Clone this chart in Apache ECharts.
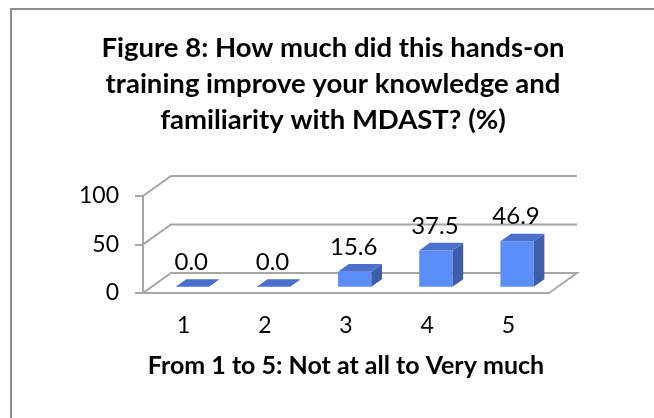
<!DOCTYPE html>
<html>
<head>
<meta charset="utf-8">
<script src="https://cdn.jsdelivr.net/npm/echarts@6/dist/echarts.min.js"></script>
<style>
  html, body { margin: 0; padding: 0; background: #fff; }
  #chart { width: 654px; height: 418px; }
</style>
</head>
<body>
<div id="chart"></div>
<script>
// data
const categories = ['1', '2', '3', '4', '5'];
const values = [0.0, 0.0, 15.6, 37.5, 46.9];
const yTicks = [0, 50, 100];
const titleLines = [
  'Figure 8: How much did this hands-on',
  'training improve your knowledge and',
  'familiarity with MDAST? (%)'
];
const xTitle = 'From 1 to 5: Not at all to Very much';

const chart = echarts.init(document.getElementById('chart'));

const FONT = 'Lato';
const LINE = '#a6a6a6';
const DEPTH = [28, -20]; // offset from the front of the floor to the back wall

// floor outline + back wall gridlines, one item per y tick
function renderFrame(params, api) {
  const cs = params.coordSys;
  const y = api.coord([0, api.value(1)])[1];
  const left = cs.x, right = cs.x + cs.width;
  const style = { stroke: LINE, lineWidth: 2, fill: null };
  const pts = [[left, y], [left + DEPTH[0], y + DEPTH[1]], [right + DEPTH[0], y + DEPTH[1]]];
  if (api.value(1) === 0) pts.push([right, y]);
  return { type: 'polyline', shape: { points: pts }, style: style, silent: true };
}

// a 3D column sitting in the middle of the floor depth
function renderBar(params, api) {
  const i = api.value(0), v = api.value(1);
  const base = api.coord([i, 0]);
  const top = api.coord([i, v]);
  const band = api.size([1, 0])[0];
  const w = band * 0.41;
  const fx = DEPTH[0] * 0.31, fy = DEPTH[1] * 0.31;
  const dx = DEPTH[0] * 0.38, dy = DEPTH[1] * 0.38;
  const x0 = base[0] - w / 2 + fx, x1 = x0 + w;
  const yb = base[1] + fy, yt = top[1] + fy;
  const kids = [];
  if (yb - yt > 0.5) {
    kids.push({ type: 'rect', shape: { x: x0, y: yt, width: w, height: yb - yt },
      style: { fill: '#5b8ef8' } });
    kids.push({ type: 'polygon', shape: { points: [[x1, yt], [x1 + dx, yt + dy], [x1 + dx, yb + dy], [x1, yb]] },
      style: { fill: '#3d5eaa' } });
  }
  kids.push({ type: 'polygon', shape: { points: [[x0, yt], [x1, yt], [x1 + dx, yt + dy], [x0 + dx, yt + dy]] },
    style: { fill: '#4a70cc' } });
  kids.push({ type: 'text', x: x0 + w / 2 - 1, y: yt + dy - 17,
    style: { text: v.toFixed(1), fill: '#000', font: '24px ' + FONT, align: 'center', verticalAlign: 'middle' } });
  return { type: 'group', children: kids };
}

const option = {
  animation: false,
  backgroundColor: '#fff',
  title: {
    text: titleLines.join('\n'),
    left: 333,
    top: 30,
    padding: 0,
    textAlign: 'center',
    textStyle: { fontFamily: FONT, fontSize: 27.5, fontWeight: 'bold', color: '#000', lineHeight: 36 }
  },
  graphic: [{
    type: 'rect', shape: { x: 11, y: 9, width: 700, height: 500 },
    style: { fill: null, stroke: '#8c8c8c', lineWidth: 2 }, silent: true
  }],
  grid: { left: 143, right: 105, top: 196, bottom: 125 },
  xAxis: {
    type: 'category',
    data: categories,
    axisLine: { lineStyle: { color: LINE, width: 2 } },
    axisTick: { show: false },
    axisLabel: { fontFamily: FONT, fontSize: 23, color: '#000', margin: 21 },
    name: xTitle,
    nameLocation: 'middle',
    nameGap: 60,
    nameTextStyle: { fontFamily: FONT, fontSize: 25, fontWeight: 'bold', color: '#000' }
  },
  yAxis: {
    type: 'value',
    min: 0, max: 100, interval: 50,
    axisLine: { show: true, lineStyle: { color: LINE, width: 2 } },
    axisTick: { show: true, length: 8, lineStyle: { color: LINE, width: 2 } },
    axisLabel: { fontFamily: FONT, fontSize: 23, color: '#000', margin: 24 },
    splitLine: { show: false }
  },
  series: [
    {
      type: 'custom',
      renderItem: renderFrame,
      data: yTicks.map(v => [0, v]),
      encode: { x: 0, y: 1 },
      clip: false,
      z: 1
    },
    {
      type: 'custom',
      renderItem: renderBar,
      data: values.map((v, i) => [i, v]),
      encode: { x: 0, y: 1 },
      clip: false,
      z: 3
    }
  ]
};

chart.setOption(option);
</script>
</body>
</html>
